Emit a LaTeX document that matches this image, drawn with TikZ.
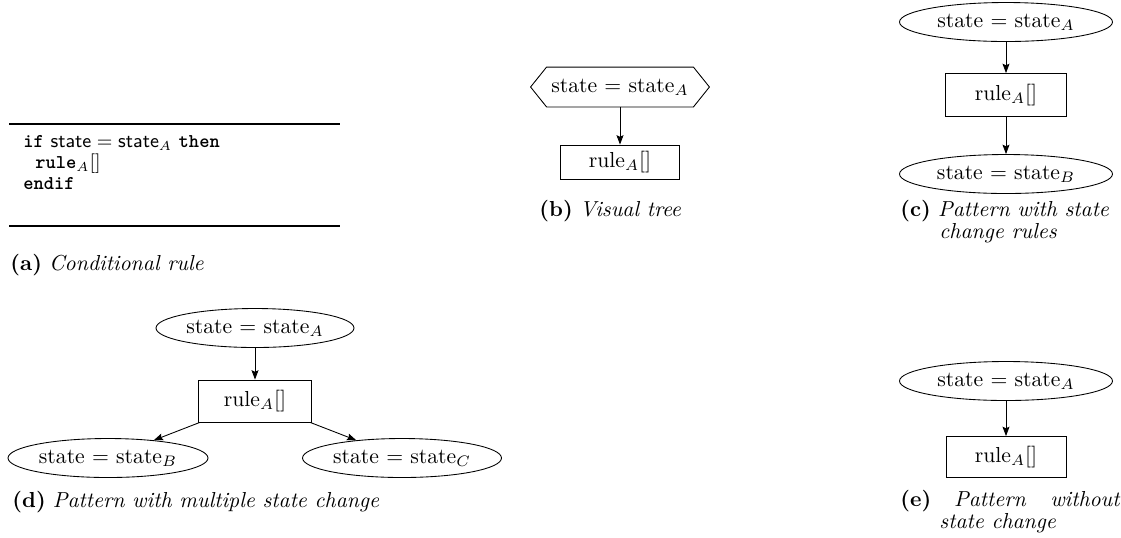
\documentclass[tikz,border=0pt]{standalone}
\usetikzlibrary{shapes.geometric,arrows.meta}
\begin{document}
\def\u{0.4608pt}
\begin{tikzpicture}[x=\u,y=-\u,
  state/.style={ellipse,draw,inner sep=0pt,minimum width={#1*\u},minimum height={39*\u}},
  state/.default=213,
  rulebox/.style 2 args={rectangle,draw,inner sep=0pt,minimum width={#1*\u},minimum height={#2*\u}},
  arr/.style={-{Stealth[length=4.3pt,width=3.2pt,inset=0.7pt]}},
  captext/.style={anchor=west,inner sep=0pt},
  code/.style={anchor=west,inner sep=0pt,font=\small}]
\useasboundingbox (0,0) rectangle (1121,537);

% (a) conditional rule as pseudo code
\draw[line width=0.5pt] (9,124) -- (340,124);
\draw[line width=0.5pt] (9,226) -- (340,226);
\node[code] (c1) at (23,143) {\texttt{\bfseries if} $\textsf{state} = \textsf{state}_A$ \texttt{\bfseries then}};
\node[code] (c2) at (35,164) {\texttt{\bfseries rule}$_A[]$};
\node[code] (c3) at (23,184) {\texttt{\bfseries endif}};
\node[captext] (capa) at (10,265) {\textbf{(a)}~\textit{Conditional rule}};

% (b) visual tree
\node[inner sep=0pt,minimum width={178*\u},minimum height={39*\u}] (bA) at (620,87) {state $=$ state$_A$};
\draw (bA.west) -- ([xshift=16*\u]bA.north west) -- ([xshift=-16*\u]bA.north east)
  -- (bA.east) -- ([xshift=-16*\u]bA.south east) -- ([xshift=16*\u]bA.south west) -- cycle;
\node[rulebox={119}{34}] (bR) at (620,162) {rule$_A[]$};
\draw[arr] (bA) -- (bR);
\node[captext] (capb) at (539,211) {\textbf{(b)}~\textit{Visual tree}};

% (c) pattern with state change rules
\node[state] (cA) at (1006,22) {state $=$ state$_A$};
\node[rulebox={121}{43}] (cR) at (1006,95) {rule$_A[]$};
\node[state] (cB) at (1006,174) {state $=$ state$_B$};
\draw[arr] (cA) -- (cR);
\draw[arr] (cR) -- (cB);
\node[captext] (capc1) at (900,211) {\textbf{(c)}~\textit{Pattern with state}};
\node[captext] (capc2) at (939,233) {\textit{change rules}};

% (d) pattern with multiple state change
\node[state=198] (dA) at (255,328) {state $=$ state$_A$};
\node[rulebox={113}{42}] (dR) at (255,401) {rule$_A[]$};
\node[state=200] (dB) at (108,458) {state $=$ state$_B$};
\node[state=199] (dC) at (402,458) {state $=$ state$_C$};
\draw[arr] (dA) -- (dR);
\draw[arr] (dR) -- (dB);
\draw[arr] (dR) -- (dC);
\node[captext] (capd) at (12,502) {\textbf{(d)}~\textit{Pattern with multiple state change}};

% (e) pattern without state change
\node[state] (eA) at (1006,381) {state $=$ state$_A$};
\node[rulebox={120}{41}] (eR) at (1006,457) {rule$_A[]$};
\draw[arr] (eA) -- (eR);
\node[captext] (cape1) at (900,501) {\makebox[101.4pt][s]{\textbf{(e)} \textit{Pattern without}}};
\node[captext] (cape2) at (939,523) {\textit{state change}};
\end{tikzpicture}
\end{document}
